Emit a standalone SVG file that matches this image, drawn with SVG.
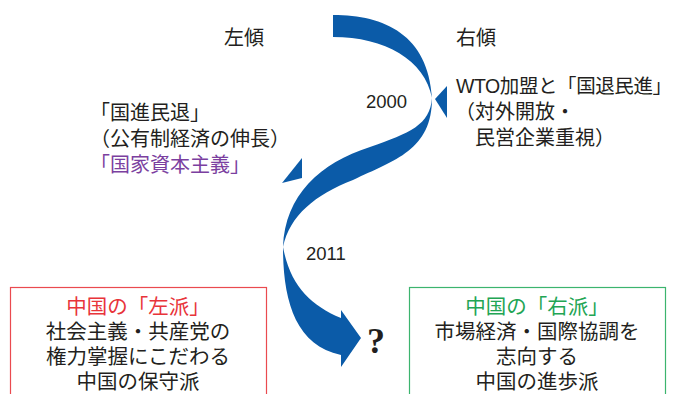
<svg xmlns="http://www.w3.org/2000/svg" width="679" height="394" viewBox="0 0 679 394">
<style>
.t{font-family:"Liberation Sans","Noto Sans CJK JP",sans-serif;font-size:20px;fill:#231f20}
.n{font-family:"Liberation Sans",sans-serif;font-size:18.5px;fill:#231f20}
.c{text-anchor:middle}
.ribbon{fill:#0b5ba8}
</style>
<rect width="679" height="394" fill="#ffffff"/>
<g id="connectors">
<path class="ribbon" d="M333,15 C385,15 428,35 432,98 C425,60 385,37 333,37 Z"/>
<path class="ribbon" d="M432,98 C430,125 410,133 370,147 C320,163 285,195 283,247 C290,215 315,195 353,180 C395,160 432,150 432,98 Z"/>
<path class="ribbon" d="M283,247 C283,300 295,345 341,355 L341,367 L361,338 L341,310 L341,318 C310,305 290,285 283,247 Z"/>
<path class="ribbon" d="M435,99 L447,86 L447,118 Z"/>
<path class="ribbon" d="M302,158 L282,183 L302,178 Z"/>
</g>
<g id="label-left-tilt"><text class="t" x="224" y="45">左傾</text></g>
<g id="label-right-tilt"><text class="t" x="456" y="45">右傾</text></g>
<g id="label-2000"><text class="n" x="366" y="108">2000</text></g>
<g id="label-2011"><text class="n" x="306" y="260">2011</text></g>
<g id="left-policy">
<text class="t" x="90" y="120">「国進民退」</text>
<text class="t" x="90" y="146">（公有制経済の伸長）</text>
<text class="t" x="90" y="172" style="fill:#7b3fa0">「国家資本主義」</text>
</g>
<g id="right-policy">
<text class="t" x="456" y="93" style="font-size:19.5px" textLength="216" lengthAdjust="spacing">WTO加盟と「国退民進」</text>
<text class="t" x="455" y="119">（対外開放・</text>
<text class="t" x="475" y="145">民営企業重視）</text>
</g>
<g id="question"><text x="376" y="353" style="font-family:'Liberation Serif',serif;font-weight:bold;font-size:36px;fill:#231f20;text-anchor:middle">?</text></g>
<g id="box-left">
<rect x="10.5" y="287.5" width="256" height="120" fill="none" stroke="#ea4a4f" stroke-width="1.2"/>
<text class="t c" x="138" y="314" style="fill:#e8343a;font-size:20.5px">中国の「左派」</text>
<text class="t c" x="138" y="339" style="font-size:20.5px">社会主義・共産党の</text>
<text class="t c" x="138" y="364" style="font-size:20.5px">権力掌握にこだわる</text>
<text class="t c" x="138" y="389" style="font-size:20.5px">中国の保守派</text>
</g>
<g id="box-right">
<rect x="409.5" y="287.5" width="256" height="120" fill="none" stroke="#3cb46e" stroke-width="1.2"/>
<text class="t c" x="537" y="314" style="fill:#22a554;font-size:20.5px">中国の「右派」</text>
<text class="t c" x="537" y="339" style="font-size:20.5px">市場経済・国際協調を</text>
<text class="t c" x="537" y="364" style="font-size:20.5px">志向する</text>
<text class="t c" x="537" y="389" style="font-size:20.5px">中国の進歩派</text>
</g>
</svg>
